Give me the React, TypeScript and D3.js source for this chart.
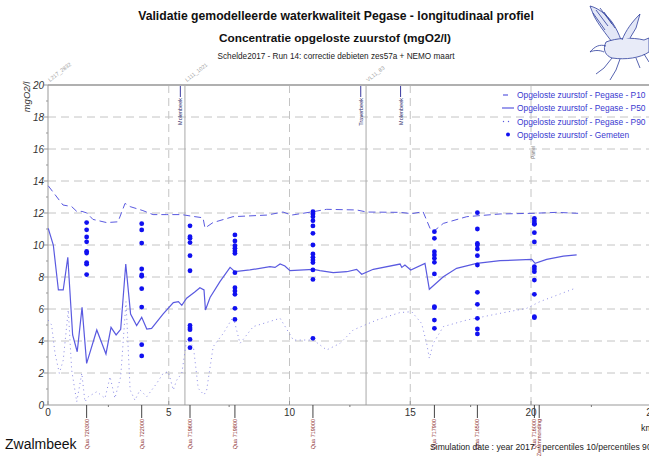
import React from "react";
import * as d3 from "d3";

// ---- data ----
const p10Km = [0.01, 0.62, 0.98, 1.19, 1.41, 1.61, 1.86, 2.43, 2.9, 3.19, 3.4, 3.93, 4.35, 4.92, 5.54, 5.95, 6.42, 6.5, 6.83, 7.66, 9.06, 9.73, 10.09, 10.97, 11.54, 12.78, 13.2, 14.58, 15.06, 15.53, 15.82, 15.95, 16.37, 17.34, 18.72, 20.08, 21.06, 21.95];
const p10Val = [13.7, 12.5, 12.4, 12.1, 12.1, 12.0, 11.6, 11.4, 11.45, 12.6, 12.4, 12.15, 11.9, 11.9, 11.9, 11.8, 11.7, 11.06, 11.4, 11.77, 11.87, 12.06, 11.87, 12.08, 12.23, 12.19, 12.06, 12.04, 11.96, 12.08, 11.04, 10.83, 11.35, 11.77, 11.94, 11.98, 12.04, 11.98];

const p50Km = [0.01, 0.22, 0.43, 0.63, 0.82, 1.02, 1.21, 1.41, 1.6, 2.02, 2.4, 2.61, 2.82, 3.01, 3.22, 3.42, 3.67, 3.88, 4.09, 4.29, 4.77, 5.19, 5.4, 5.54, 5.74, 6.09, 6.29, 6.46, 6.52, 6.71, 7.12, 7.54, 7.74, 8.36, 9.19, 9.4, 9.61, 9.81, 10.02, 10.99, 11.26, 11.81, 12.37, 12.78, 12.99, 13.47, 14.58, 14.65, 14.78, 15.02, 15.61, 15.79, 16.37, 16.92, 17.75, 18.72, 20.03, 20.17, 20.65, 21.34, 21.89];
const p50Val = [11.04, 10.0, 7.19, 7.19, 9.23, 4.38, 3.33, 6.1, 2.6, 4.69, 3.19, 4.85, 4.38, 4.73, 8.81, 5.69, 4.96, 5.48, 4.75, 4.79, 5.69, 6.4, 6.46, 6.23, 6.67, 7.08, 7.33, 7.19, 5.94, 6.72, 7.71, 8.6, 8.33, 8.44, 8.65, 8.6, 8.81, 8.69, 8.4, 8.48, 8.4, 8.27, 8.33, 8.48, 8.17, 8.48, 8.81, 8.6, 8.75, 8.44, 8.85, 7.23, 8.02, 8.54, 8.85, 9.02, 9.1, 8.85, 9.1, 9.31, 9.38];

const p90Km = [0.01, 0.15, 0.29, 0.47, 0.63, 0.84, 0.98, 1.19, 1.4, 1.53, 1.67, 2.02, 2.36, 2.57, 2.77, 3.01, 3.23, 3.4, 3.6, 3.81, 4.09, 4.5, 4.77, 4.98, 5.19, 5.33, 5.54, 5.74, 6.02, 6.22, 6.46, 6.57, 6.84, 7.26, 7.67, 7.95, 8.5, 9.61, 10.16, 10.99, 11.54, 12.09, 12.64, 13.61, 14.58, 15.06, 15.47, 15.68, 15.79, 15.95, 16.37, 17.34, 18.72, 19.82, 20.37, 21.82];
const p90Val = [5.3, 5.0, 3.23, 1.98, 2.8, 5.94, 2.19, 0.2, 1.98, 0.2, 0.52, 0.83, 0.42, 1.77, 0.42, 1.77, 6.46, 0.94, 0.3, 0.94, 0.52, 1.35, 1.98, 2.08, 0.94, 1.56, 1.98, 4.06, 3.65, 1.04, 0.63, 0.94, 3.65, 4.48, 5.52, 3.85, 4.9, 5.42, 4.06, 4.06, 3.44, 3.85, 4.69, 5.31, 5.78, 5.83, 5.1, 3.85, 2.92, 3.85, 4.9, 5.31, 5.73, 6.04, 6.46, 7.29];

const stationKm = [1.6, 3.88, 5.88, 7.74, 10.97, 16.0, 17.78, 20.14];
const stationNames = ["Qua 720300", "Qua 722000", "Qua 719600", "Qua 719800", "Qua 719000", "Qua 717900", "Qua 716500", "Qua 716000"];
const measured = [
  [11.4, 10.95, 10.5, 10.2, 9.6, 9.5, 8.9, 8.8, 8.15],
  [11.33, 10.94, 10.12, 8.5, 8.13, 8.04, 7.27, 6.12, 3.77, 3.07],
  [11.2, 10.52, 10.42, 10.15, 9.33, 8.39, 4.97, 4.82, 4.71, 4.1, 3.58],
  [10.63, 10.25, 9.96, 9.79, 9.63, 9.48, 8.27, 7.33, 7.13, 6.92, 6.04, 5.35],
  [12.08, 11.94, 11.77, 11.52, 11.19, 10.73, 10.0, 9.44, 9.23, 9.06, 8.9, 8.44, 7.85, 4.17],
  [10.83, 10.42, 9.58, 9.38, 9.17, 8.92, 8.19, 6.15, 6.08, 5.31, 4.79],
  [12.02, 11.0, 10.1, 10.0, 9.75, 9.33, 8.75, 7.04, 6.29, 5.42, 4.75, 4.44],
  [11.67, 11.5, 11.35, 11.29, 10.77, 10.19, 8.65, 8.5, 8.33, 7.81, 6.92, 5.52, 5.46],
];

const extraStationKm = [20.34];
const extraStationNames = ["Zwalmmonding"];

const profileKm = [0, 5.67, 13.17];
const profileNames = ["L217_2832", "L111_1021", "VL11_83"];

const tributaryKm = [5.48, 12.95, 14.6];
const tributaryNames = ["Molenbeek", "Traverbeek", "Molenbeek"];

const yTicks = [0, 2, 4, 6, 8, 10, 12, 14, 16, 18, 20];
const xTicks = [0, 5, 10, 15, 20, 25];

const legendLabels = [
  "Opgeloste zuurstof - Pegase - P10",
  "Opgeloste zuurstof - Pegase - P50",
  "Opgeloste zuurstof - Pegase - P90",
  "Opgeloste zuurstof - Gemeten",
];

const FONT = "'Liberation Sans', Arial, Helvetica, sans-serif";
const LINE = "#5a5ae0";
const DOT = "#1010f0";

export default function App() {
  const W = 649, H = 461;
  const left = 48, top = 85, bottom = 405;
  const x = d3.scaleLinear().domain([0, 25]).range([left, left + 25 * 24.15]);
  const y = d3.scaleLinear().domain([0, 20]).range([bottom, top]);

  const line = d3.line<[number, number]>().x((d) => x(d[0])).y((d) => y(d[1]));
  const p10 = line(p10Km.map((k, i) => [k, p10Val[i]]) as [number, number][]) || "";
  const p50 = line(p50Km.map((k, i) => [k, p50Val[i]]) as [number, number][]) || "";
  const p90 = line(p90Km.map((k, i) => [k, p90Val[i]]) as [number, number][]) || "";

  const minorX = d3.range(0, 25.01, 2.5).filter((v) => v % 5 !== 0);
  const minorY = d3.range(1, 20, 2);

  return (
    <svg width={W} height={H} style={{ position: "absolute", left: 0, top: 0, background: "#fff" }} fontFamily={FONT}>
      {/* titles */}
      <text x={336} y={20} textAnchor="middle" fontSize={12.2} fontWeight="bold" fill="#111">
        Validatie gemodelleerde waterkwaliteit Pegase - longitudinaal profiel
      </text>
      <text x={335} y={42} textAnchor="middle" fontSize={11.8} fontWeight="bold" fill="#111">
        Concentratie opgeloste zuurstof (mgO2/l)
      </text>
      <text x={336} y={59} textAnchor="middle" fontSize={8.2} fill="#222">
        Schelde2017 - Run 14: correctie debieten zes57a + NEMO maart
      </text>

      {/* pegasus logo (decorative) */}
      <g stroke="#2c3c9c" strokeWidth={0.8} strokeLinejoin="round">
        <path d="M590,6 C598,8 606,14 612,22 C616,28 619,34 621,40 L612,42 C606,34 598,24 594,16 Z" fill="#e3e7f7" />
        <path d="M596,10 L608,26 M600,8 L612,24 M593,13 L605,30 M604,12 L615,28" fill="none" />
        <path d="M606,42 C616,38 632,37 644,40 L649,38 L649,52 C640,58 626,60 612,58 C606,56 602,50 606,42 Z" fill="#e8ebf8" />
        <path d="M612,58 L604,68 L596,74 M620,59 L616,70 L610,80 M636,58 L640,68 M644,54 L649,62" fill="none" />
        <path d="M606,46 C600,44 595,46 590,52 C594,50 600,50 604,52" fill="none" />
        <path d="M622,40 C626,30 632,22 640,14 L636,28 L630,38" fill="#e3e7f7" />
      </g>

      {/* grid */}
      {yTicks.filter((t) => t > 0 && t < 20).map((t) => (
        <line key={"gy" + t} x1={left} x2={W} y1={y(t)} y2={y(t)} stroke="#c4c4c4" strokeDasharray="8,5" strokeWidth={1} />
      ))}
      {xTicks.filter((t) => t > 0 && t < 25).map((t) => (
        <line key={"gx" + t} x1={x(t)} x2={x(t)} y1={top} y2={bottom} stroke="#c4c4c4" strokeDasharray="8,5" strokeWidth={1} />
      ))}

      {/* profile lines */}
      {profileKm.map((k, i) => (
        <g key={"pr" + i}>
          {k > 0 && <line x1={x(k)} x2={x(k)} y1={top} y2={bottom} stroke="#a8a8a8" strokeWidth={1} />}
          <text transform={`translate(${x(k) + 2},${top - 3}) rotate(-38)`} fontSize={5.5} fill="#a0a0a0">
            {profileNames[i]}
          </text>
        </g>
      ))}

      {/* tributaries */}
      {tributaryKm.map((k, i) => (
        <g key={"tr" + i}>
          <line x1={x(k)} x2={x(k)} y1={top} y2={top + 12} stroke="#3a3aa0" strokeWidth={1} />
          <text transform={`translate(${x(k) + 2},${top + 13}) rotate(-90)`} textAnchor="end" fontSize={5.5} fill="#2a2a6a">
            {tributaryNames[i]}
          </text>
        </g>
      ))}
      <text transform={`translate(${x(20.08) + 2},${146}) rotate(-90)`} textAnchor="end" fontSize={4.5} fill="#777">
        Pamel
      </text>

      {/* frame / axes */}
      <line x1={left} x2={W} y1={top} y2={top} stroke="#b0b0b0" strokeWidth={2} />
      <line x1={left} x2={left} y1={top} y2={bottom} stroke="#999" strokeWidth={1} />
      <line x1={left} x2={W} y1={bottom} y2={bottom} stroke="#999" strokeWidth={1} />

      {/* y ticks */}
      {yTicks.map((t) => (
        <g key={"yt" + t}>
          <line x1={left - 4} x2={left} y1={y(t)} y2={y(t)} stroke="#999" />
          <text x={left - 4} y={y(t) + 3.5} textAnchor="end" fontSize={10} fontStyle="italic" fill="#333">
            {t}
          </text>
        </g>
      ))}
      {minorY.map((t) => (
        <line key={"my" + t} x1={left - 2} x2={left} y1={y(t)} y2={y(t)} stroke="#999" />
      ))}
      <text transform={`translate(30,97) rotate(-90)`} textAnchor="middle" fontSize={9.5} fontStyle="italic" fill="#333">
        mgO2/l
      </text>

      {/* x ticks */}
      {xTicks.map((t) => (
        <g key={"xt" + t}>
          <line x1={x(t)} x2={x(t)} y1={bottom} y2={bottom - 4} stroke="#999" />
          <text x={x(t)} y={bottom + 11} textAnchor="middle" fontSize={10} fill="#333">
            {t}
          </text>
        </g>
      ))}
      {minorX.map((t) => (
        <line key={"mx" + t} x1={x(t)} x2={x(t)} y1={bottom} y2={bottom + 2} stroke="#777" />
      ))}
      <text x={641} y={431} fontSize={9} fill="#222">km</text>

      {/* stations */}
      {stationKm.concat(extraStationKm).map((k, i) => (
        <g key={"st" + i}>
          <line x1={x(k)} x2={x(k)} y1={bottom} y2={bottom + 13} stroke="#444" strokeWidth={1} />
          <text transform={`translate(${x(k) + 2},${bottom + 14}) rotate(-90)`} textAnchor="end" fontSize={5.5} fill="#8b2a2a">
            {stationNames.concat(extraStationNames)[i]}
          </text>
        </g>
      ))}

      {/* series */}
      <path d={p10} fill="none" stroke={LINE} strokeWidth={1} strokeDasharray="7,4" />
      <path d={p90} fill="none" stroke="#8a8ae6" strokeWidth={1} strokeDasharray="1,3.5" />
      <path d={p50} fill="none" stroke={LINE} strokeWidth={1.2} />

      {measured.map((vals, i) =>
        vals.map((v, j) => <circle key={`m${i}-${j}`} cx={x(stationKm[i])} cy={y(v)} r={2.4} fill={DOT} />)
      )}

      {/* legend */}
      <g fontSize={8.4} fill="#3a3ad0">
        <line x1={503} x2={508} y1={95} y2={95} stroke={LINE} strokeWidth={1.2} />
        <line x1={502} x2={514} y1={108} y2={108} stroke={LINE} strokeWidth={1.2} />
        <circle cx={503.5} cy={121.5} r={0.7} fill={LINE} />
        <circle cx={508.5} cy={121.5} r={0.7} fill={LINE} />
        <circle cx={508} cy={134.5} r={2} fill={DOT} />
        {legendLabels.map((l, i) => (
          <text key={"lg" + i} x={517} y={98 + i * 13.3}>{l}</text>
        ))}
      </g>

      {/* footer */}
      <text x={5} y={449} fontSize={14} fill="#111">Zwalmbeek</text>
      <text x={430} y={450} fontSize={8.6} fill="#222">
        Simulation date : year 2017 - percentiles 10/percentiles 90
      </text>
    </svg>
  );
}
